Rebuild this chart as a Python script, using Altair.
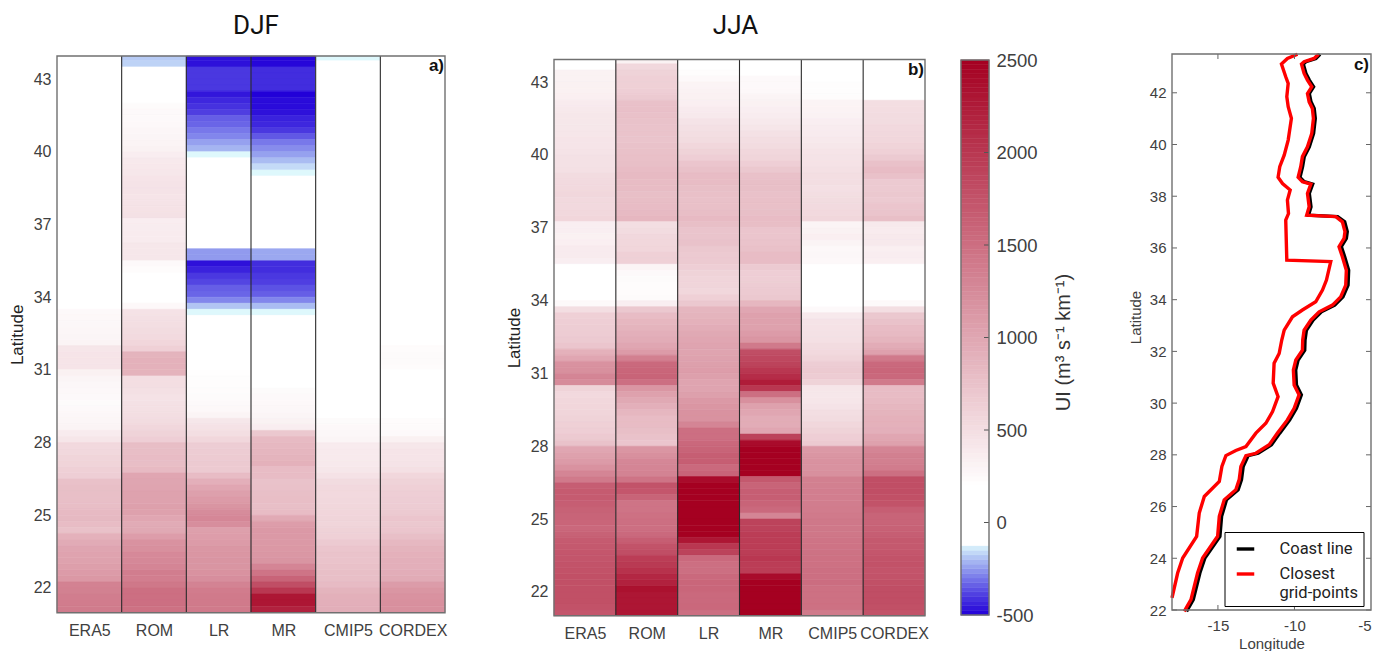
import altair as alt
import pandas as pd

MODELS = ["ERA5", "ROM", "LR", "MR", "CMIP5", "CORDEX"]
LAT_TOPS = [44 - 0.25 * i for i in range(92)]

# each line is one degree of latitude, north to south, in 0.25 degree rows
DJF_ERA5 = [0]*40 + [
 0,0,250,260,
 270,280,290,300,  430,440,440,440,  330,290,270,260,  250,240,250,270,
 280,300,380,430,  540,550,580,590,  620,640,760,780,  780,780,790,820,
 830,800,760,900,  960,1010,1030,1040,  1070,1100,1130,1330,  1340,1370,1380,1390]
DJF_ROM = [
 -180,-170,0,0,  0,0,0,0,  240,250,250,260,  280,290,300,320,
 360,400,410,420,  440,450,450,440,  450,460,470,360,  370,380,380,420,
 420,420,250,230,  0,0,0,0,  200,260,460,480,  500,520,530,570,
 620,880,900,900,  890,500,500,480,  460,470,480,500,  520,560,600,640,
 790,790,800,790,  820,1000,1010,1020,  1040,1040,1060,1050,  1000,960,980,1080,
 1180,1200,1260,1270,  1300,1370,1360,1420,  1500,1500,1500,1480]
DJF_LR = [
 -470,-470,-400,-400,  -400,-400,-460,-430,  -410,-390,-340,-330,  -300,-280,-240,-210,
 -120,0,0,0,  0,0,0,0,  0,0,0,0,  0,0,0,0,
 -250,-250,-470,-440,  -400,-380,-340,-330,  -280,-190,-120,0,  0,0,0,0,
 0,0,0,0,  210,220,220,230,  240,250,260,300,  420,460,500,560,
 650,660,670,680,  680,800,920,1000,  1060,1100,1160,1240,  1280,1220,1060,1080,
 1100,1140,1150,1160,  1160,1180,1220,1320,  1380,1400,1400,1400]
DJF_MR = [
 -490,-490,-420,-420,  -420,-420,-500,-480,  -480,-470,-440,-430,  -400,-350,-300,-270,
 -240,-200,-160,-120,  0,0,0,0,  0,0,0,0,  0,0,0,0,
 -230,-230,-420,-420,  -400,-390,-360,-340,  -280,-200,-120,0,  0,0,0,0,
 0,0,0,0,  0,0,200,240,  250,260,270,290,  320,360,700,820,
 840,860,880,900,  800,800,750,760,  780,790,780,800,  970,1080,1120,1120,
 1120,1130,1140,1160,  1300,1450,1600,1800,  2000,2300,2300,2200]
DJF_CMIP5 = [-120,0,0,0] + [0]*56 + [
 240,260,270,290,  380,390,390,400,  420,460,520,540,  540,550,560,570,
 580,580,610,620,  680,720,740,740,  760,780,780,810,  880,910,920,930]
DJF_CORDEX = [0]*48 + [
 230,240,240,230,  0,0,0,0,  0,0,0,0,  230,240,250,330,
 420,440,440,450,  480,560,600,620,  640,650,660,680,  720,700,720,780,
 840,880,900,920,  920,940,960,1090,  1150,1180,1200,1200]

JJA_ERA5 = [
 150,200,320,320,  330,330,340,380,  400,420,420,420,  430,440,440,450,
 470,470,480,520,  530,540,560,540,  540,550,570,350,  350,330,340,380,
 380,350,0,0,  0,0,0,0,  250,500,620,640,  650,660,680,720,
 900,1000,1180,1200,  1300,1250,600,540,  560,570,580,600,  620,640,680,750,
 1000,1050,1100,1180,  1300,1400,1650,1680,  1680,1650,1620,1600,  1590,1560,1620,1680,
 1700,1720,1730,1750,  1760,1780,1780,1780,  1780,1780,1760,1720]
JJA_ROM = [
 320,550,600,620,  620,640,680,760,  770,760,750,740,  740,730,750,760,
 770,780,800,820,  800,800,780,790,  800,820,850,500,  520,550,560,570,
 620,620,300,250,  240,230,230,240,  350,700,800,850,  880,920,950,1000,
 1100,1350,1550,1580,  1600,1500,1150,1050,  980,920,850,800,  800,780,750,720,
 1150,1200,1280,1300,  1320,1450,1750,1720,  1600,1450,1450,1480,  1500,1500,1550,1650,
 1750,1800,1950,1980,  2050,2150,2200,2350,  2300,2300,2300,2300]
JJA_LR = [
 100,200,220,250,  300,320,330,340,  380,400,450,480,  500,520,560,600,
 640,720,760,800,  800,780,770,760,  770,790,820,780,  730,730,750,700,
 680,680,640,600,  580,580,560,620,  700,860,880,900,  940,980,1000,1020,
 1020,1040,1060,1080,  1060,1020,1020,1060,  1120,1150,1180,1180,  1300,1500,1500,1560,
 1600,1650,1650,1550,  1600,2400,2500,2500,  2500,2500,2500,2500,  2500,2500,2500,2300,
 2000,1900,1550,1500,  1500,1550,1580,1580,  1550,1550,1560,1500]
JJA_MR = [
 50,100,200,250,  250,260,300,330,  350,370,400,430,  470,500,520,560,
 580,640,700,760,  780,780,760,770,  770,780,800,790,  720,720,740,760,
 800,800,680,640,  640,660,680,700,  850,1000,1050,1050,  1050,1100,1150,1400,
 1800,1850,1900,2000,  2100,2250,2000,1500,  1200,1050,1000,950,  950,1000,1900,2400,
 2500,2500,2500,2500,  2500,1700,1600,1650,  1650,1600,1550,1300,  1900,1900,1950,1950,
 1950,1950,2000,1950,  1950,2400,2500,2500,  2500,2500,2500,2500]
JJA_CMIP5 = [
 30,50,80,100,  220,220,230,300,  310,320,350,370,  380,400,420,440,
 450,460,480,500,  500,480,500,520,  530,540,560,300,  320,340,300,260,
 270,260,0,0,  0,0,0,0,  200,250,400,450,  460,470,480,520,
 540,580,650,680,  660,600,430,420,  430,450,500,520,  560,600,640,680,
 1120,1150,1180,1180,  1200,1350,1350,1360,  1360,1370,1380,1400,  1420,1420,1430,1450,
 1460,1470,1480,1480,  1500,1500,1520,1480,  1480,1480,1480,1400]
JJA_CORDEX = [
 0,0,0,0,  0,0,0,500,  510,520,520,540,  550,560,590,620,
 680,760,800,760,  680,680,700,680,  720,730,780,400,  380,400,400,340,
 360,340,0,0,  0,0,0,0,  250,500,700,750,  800,820,870,950,
 1050,1400,1550,1580,  1560,1400,800,800,  820,850,880,900,  900,920,1000,1050,
 1300,1350,1350,1380,  1500,1800,1800,1800,  1780,1750,1650,1600,  1600,1620,1650,1700,
 1700,1720,1750,1760,  1740,1750,1780,1800,  1800,1800,1780,1750]

DJF = [DJF_ERA5, DJF_ROM, DJF_LR, DJF_MR, DJF_CMIP5, DJF_CORDEX]
JJA = [JJA_ERA5, JJA_ROM, JJA_LR, JJA_MR, JJA_CMIP5, JJA_CORDEX]

COLOR_STOPS = [-500, -400, -300, -200, -120, -115, 200, 2500]
COLOR_HEX = ["#2200d8", "#4a38e0", "#7878ea", "#aabcf2", "#def8fc", "#ffffff", "#ffffff", "#a50021"]
LEVELS = list(range(-500, 2500, 25))
CBAR_TICKS = [-500, 0, 500, 1000, 1500, 2000, 2500]
LAT_TICKS = [22, 25, 28, 31, 34, 37, 40, 43]

GRID_LAT = [43.49,43.33,43.11,42.62,42.36,41.85,41.46,41.01,40.17,39.59,39.14,38.73,38.49,38.24,37.85,37.33,37.08,35.53,35.47,34.76,34.37,33.92,33.60,33.34,32.82,32.44,31.92,31.54,30.77,30.25,29.67,29.22,28.84,28.32,28.17,27.97,27.55,26.97,26.39,25.75,24.85,24.01,23.43,22.47]
GRID_LON = [-9.80,-10.46,-10.85,-10.57,-10.41,-10.50,-10.41,-10.20,-10.41,-10.67,-10.96,-11.07,-10.78,-10.28,-10.46,-10.39,-10.57,-10.50,-7.63,-7.91,-8.17,-8.61,-9.48,-10.13,-10.67,-10.83,-11.00,-11.33,-11.39,-11.07,-11.43,-11.87,-12.52,-13.17,-13.83,-14.48,-14.74,-14.91,-15.89,-16.22,-16.39,-17.30,-17.63,-18.00]
NEAR_LAT = [43.49,43.33,43.20,43.11,42.75,42.49,42.23,41.97,41.65,41.39,41.01,40.43,39.91,39.53,39.14,38.73,38.56,38.47,38.11,37.59,37.27,37.21,37.01,36.63,36.37,36.05,35.66,35.14,34.56,34.11,33.79,33.53,33.21,32.82,32.44,32.05,31.67,31.28,30.70,30.32,29.80,29.35,28.84,28.39,28.06,27.97,27.55,27.04,26.65,26.26,25.62,24.85,24.01,23.43,22.40,21.95]
NEAR_LON = [-8.43,-8.72,-9.37,-9.54,-9.37,-9.15,-8.87,-9.15,-9.04,-8.83,-8.76,-8.87,-9.15,-9.48,-9.59,-9.76,-9.48,-8.93,-9.15,-9.04,-9.20,-7.30,-6.87,-6.70,-6.76,-7.09,-6.87,-6.61,-6.65,-6.98,-7.52,-8.39,-8.93,-9.37,-9.46,-9.48,-9.91,-10.07,-10.02,-9.70,-10.02,-10.46,-11.11,-11.65,-12.52,-13.17,-13.50,-13.61,-13.83,-14.59,-14.91,-15.02,-16.00,-16.33,-16.76,-17.20]
COAST_LON = [-8.33,-8.60,-9.25,-9.42,-9.25,-9.03,-8.75,-9.03,-8.92,-8.71,-8.64,-8.75,-9.03,-9.36,-9.47,-9.64,-9.36,-8.81,-9.03,-8.92,-9.08,-7.18,-6.72,-6.55,-6.61,-6.94,-6.72,-6.46,-6.50,-6.83,-7.37,-8.24,-8.78,-9.22,-9.31,-9.33,-9.76,-9.92,-9.87,-9.55,-9.87,-10.31,-10.96,-11.50,-12.37,-13.02,-13.35,-13.46,-13.68,-14.44,-14.76,-14.87,-15.85,-16.18,-16.61,-17.05]

SANS = "Liberation Sans"
TXT = "#404040"
FRAME = "#707070"
GROUP_H = 562
PLAIN = "datum.value + ''"
color_scale = alt.Scale(domain=COLOR_STOPS, range=COLOR_HEX, interpolate="rgb")


def frame_mark(w, top, bottom):
    return alt.Chart(pd.DataFrame({"f": [1]})).mark_rect(fillOpacity=0, stroke=FRAME, strokeWidth=1.4).encode(
        x=alt.value(0), x2=alt.value(w), y=alt.value(top), y2=alt.value(bottom))


def heat(series, title, tag, w, top, bottom, ydom, xpad, dx):
    rows = []
    for c, (name, col) in enumerate(zip(MODELS, series)):
        assert len(col) == 92, (title, name, len(col))
        for t, v in zip(LAT_TOPS, col):
            rows.append({"c0": c, "c1": c + 1, "lat1": t, "lat0": t - 0.25, "v": v})
    df = pd.DataFrame(rows)
    xs = alt.Scale(domain=[0, 6], nice=False, zero=False)
    ys = alt.Scale(domain=ydom, range=[bottom, top], nice=False, zero=False, clamp=True)
    labels = "['ERA5','ROM','LR','MR','CMIP5','CORDEX'][datum.value-0.5]"
    xaxis = alt.Axis(values=[0.5, 1.5, 2.5, 3.5, 4.5, 5.5], labelExpr=labels,
                     title=None, tickSize=0, domain=False, grid=False, labelFont=SANS, labelFontSize=16,
                     labelColor=TXT, labelPadding=xpad, labelOverlap=False, labelFlush=False)
    rect = alt.Chart(df).mark_rect(strokeWidth=0.6).encode(
        x=alt.X("c0:Q", scale=xs, axis=xaxis),
        x2="c1:Q",
        y=alt.Y("lat0:Q", scale=ys, axis=alt.Axis(values=LAT_TICKS, format="d", title="Latitude", tickSize=0,
                domain=False, grid=False, labelFont=SANS, labelFontSize=16, labelColor=TXT, labelPadding=6,
                titleFont=SANS, titleFontSize=17, titleFontWeight="normal", titleColor="#222222", titlePadding=7)),
        y2="lat1:Q",
        color=alt.Color("v:Q", scale=color_scale, legend=None),
        stroke=alt.Color("v:Q", scale=color_scale, legend=None),
    )
    rules = alt.Chart(pd.DataFrame({"b": [1, 2, 3, 4, 5]})).mark_rule(color="#2b2b2b", strokeWidth=1.1).encode(
        x=alt.X("b:Q", scale=xs, axis=xaxis), y=alt.value(top), y2=alt.value(bottom))
    tag_mark = alt.Chart(pd.DataFrame({"t": [tag]})).mark_text(
        font=SANS, fontSize=17, fontWeight="bold", align="right", baseline="middle", color="#111111"
    ).encode(x=alt.value(w - 1), y=alt.value(top + 10), text="t:N")
    return alt.layer(rect, rules, frame_mark(w, top, bottom), tag_mark).properties(
        width=w, height=GROUP_H,
        title=alt.TitleParams(title, font="Roboto", fontSize=26, fontWeight="normal", color="#111111",
                              anchor="middle", offset=15, dx=dx))


panel_a = heat(DJF, "DJF", "a)", 388, 2, 558.7, [20.98, 43.95], 6, 5)
panel_b = heat(JJA, "JJA", "b)", 371, 5.5, 561.7, [21.02, 43.93], 9, -4)

cb_df = pd.DataFrame({"lo": LEVELS, "hi": [v + 25 for v in LEVELS], "v": [v + 12.5 for v in LEVELS]})
cb_y = alt.Scale(domain=[-500, 2500], range=[561, 6], nice=False, zero=False)
cb_axis = alt.Axis(orient="right", values=CBAR_TICKS, labelExpr=PLAIN, title="UI (m³ s⁻¹ km⁻¹)",
                   titleAngle=270, titleBaseline="middle", titleX=74, titleY=288, tickSize=0, domain=False, grid=False,
                   labelFont=SANS, labelFontSize=18.5,
                   labelColor=TXT, labelPadding=7, titleFont=SANS, titleFontSize=20, titleFontWeight="normal",
                   titleColor="#333333")
cb_rect = alt.Chart(cb_df).mark_rect(strokeWidth=0.5).encode(
    y=alt.Y("lo:Q", scale=cb_y, axis=cb_axis),
    y2="hi:Q",
    color=alt.Color("v:Q", scale=color_scale, legend=None),
    stroke=alt.Color("v:Q", scale=color_scale, legend=None),
)
cb_ticks = alt.Chart(pd.DataFrame({"t": CBAR_TICKS[1:-1]})).mark_rule(color="#555555", strokeWidth=1).encode(
    y=alt.Y("t:Q", scale=cb_y, axis=cb_axis), x=alt.value(23), x2=alt.value(28))
colorbar = alt.layer(cb_rect, cb_ticks, frame_mark(28, 6, 561)).properties(width=28, height=GROUP_H)

LONS = [-15, -10, -5]
LATS = [22, 24, 26, 28, 30, 32, 34, 36, 38, 40, 42]
C_W, C_H = 199, 556
xs_c = alt.Scale(domain=[-18, -5], nice=False, zero=False)
ys_c = alt.Scale(domain=[22, 43.5], range=[C_H, 0], nice=False, zero=False)
SER = ["Coast line", "Closest grid-points"]
x_axis_c = alt.Axis(values=LONS, labelExpr=PLAIN, title="Longitude", tickSize=0, domain=False, grid=False,
                    labelFont=SANS, labelFontSize=15, labelColor=TXT, labelPadding=8, titleFont=SANS, titleFontSize=15,
                    titleFontWeight="normal", titleColor=TXT, titlePadding=3)
y_axis_c = alt.Axis(values=LATS, format="d", title="Latitude", tickSize=0, domain=False,
                    grid=False, labelFont=SANS, labelFontSize=15, labelColor=TXT, labelPadding=6, titleFont=SANS,
                    titleFontSize=15, titleFontWeight="normal", titleColor=TXT, titlePadding=6, titleY=263)

lines_df = pd.concat([
    pd.DataFrame({"lon": COAST_LON, "lat": NEAR_LAT, "s": SER[0], "g": "coast", "i": range(len(NEAR_LAT))}),
    pd.DataFrame({"lon": NEAR_LON, "lat": NEAR_LAT, "s": SER[1], "g": "near", "i": range(len(NEAR_LAT))}),
    pd.DataFrame({"lon": GRID_LON, "lat": GRID_LAT, "s": SER[1], "g": "grid", "i": range(len(GRID_LAT))}),
])
lines = alt.Chart(lines_df).mark_line(strokeWidth=3.4).encode(
    x=alt.X("lon:Q", scale=xs_c, axis=x_axis_c),
    y=alt.Y("lat:Q", scale=ys_c, axis=y_axis_c),
    detail="g:N",
    order="i:Q",
    color=alt.Color("s:N", scale=alt.Scale(domain=SER, range=["#000000", "#ff0000"]), legend=alt.Legend(
        orient="none", legendX=52.5, legendY=478, title=None, symbolType="M-0.475,0H1.275", symbolSize=400,
        symbolStrokeWidth=3.4, labelFont="Roboto", labelFontSize=16.5, labelColor="#222222", labelOffset=26,
        labelExpr="datum.label == 'Closest grid-points' ? ['Closest', 'grid-points'] : datum.label",
        fillColor="#ffffff", strokeColor="#000000", padding=5, labelLimit=120, rowPadding=4)),
)
tk_y = pd.DataFrame({"t": LATS})
tk_x = pd.DataFrame({"t": LONS[:-1]})
tick = dict(color="#666666", strokeWidth=1)
ticks = [
    alt.Chart(tk_y).mark_rule(**tick).encode(y=alt.Y("t:Q", scale=ys_c, axis=y_axis_c), x=alt.value(0), x2=alt.value(5)),
    alt.Chart(tk_y).mark_rule(**tick).encode(y=alt.Y("t:Q", scale=ys_c, axis=y_axis_c), x=alt.value(C_W - 5), x2=alt.value(C_W)),
    alt.Chart(tk_x).mark_rule(**tick).encode(x=alt.X("t:Q", scale=xs_c, axis=x_axis_c), y=alt.value(C_H - 5), y2=alt.value(C_H)),
    alt.Chart(tk_x).mark_rule(**tick).encode(x=alt.X("t:Q", scale=xs_c, axis=x_axis_c), y=alt.value(0), y2=alt.value(5)),
]
tag_c = alt.Chart(pd.DataFrame({"t": ["c)"]})).mark_text(
    font=SANS, fontSize=17, fontWeight="bold", align="right", baseline="middle", color="#111111"
).encode(x=alt.value(C_W - 2), y=alt.value(11), text="t:N")
panel_c = alt.layer(lines, *ticks, frame_mark(C_W, 0, C_H), tag_c).properties(width=C_W, height=C_H)

chart = alt.hconcat(
    alt.hconcat(panel_a, panel_b, spacing=58),
    alt.hconcat(colorbar, panel_c, spacing=55),
    spacing=31,
).properties(padding={"left": 0, "top": 5, "right": 0, "bottom": 0}
).configure_view(stroke=None)

chart.save("out.html", embed_options={"renderer": "svg", "actions": False})
